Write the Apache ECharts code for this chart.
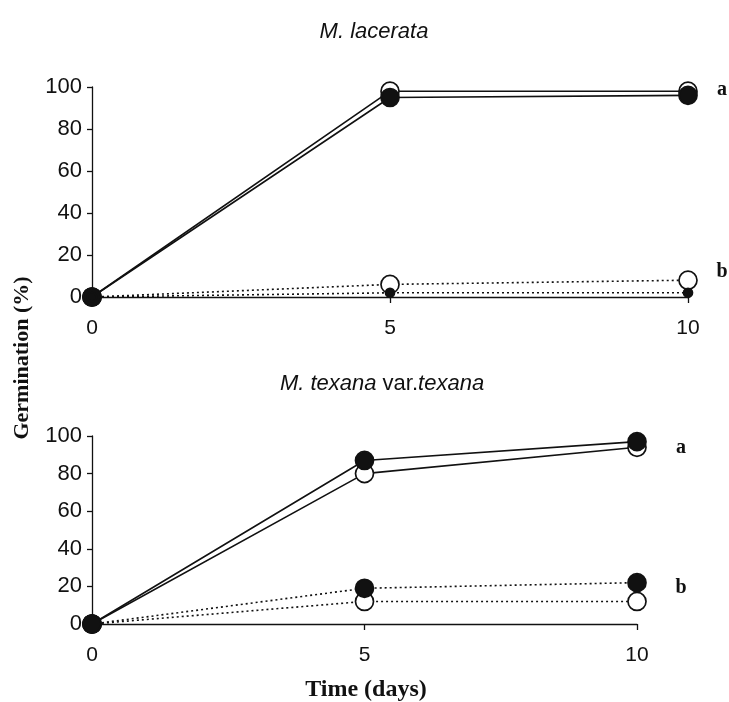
<!DOCTYPE html>
<html>
<head>
<meta charset="utf-8">
<script src="https://cdn.jsdelivr.net/npm/echarts@6/dist/echarts.min.js"></script>
<style>
html,body{margin:0;padding:0;background:#fff;}
#chart{width:729px;height:702px;}
</style>
</head>
<body>
<div id="chart"></div>
<script>
// ---- Data ----
const days = [0, 5, 10];
const xTicks = [0, 5, 10];
const yTicks = [0, 20, 40, 60, 80, 100];

// M. lacerata
const lacerataOpenA   = [0, 98, 98];
const lacerataFilledA = [0, 95, 96];
const lacerataOpenB   = [0, 6, 8];
const lacerataFilledB = [0, 2, 2];

// M. texana var. texana
const texanaOpenA   = [0, 80, 94];
const texanaFilledA = [0, 87, 97];
const texanaOpenB   = [0, 12, 12];
const texanaFilledB = [0, 19, 22];

const groupLabels = ['a', 'b'];

// ---- Chart ----
const chart = echarts.init(document.getElementById('chart'));
const sans = 'Liberation Sans, Arial, sans-serif';
const serif = 'Liberation Serif, Times New Roman, serif';
const ink = '#111';

function pairs(vals) { return days.map((d, i) => [d, vals[i]]); }

function xAxisCfg(gi) {
  return {
    type: 'value', gridIndex: gi, min: 0, max: 10, interval: 5,
    axisLine: {show: true, lineStyle: {color: ink, width: 1.3}},
    axisTick: {show: true, inside: false, length: 6, lineStyle: {color: ink, width: 1.3}},
    axisLabel: {color: ink, fontFamily: sans, fontSize: 21, margin: 21,
      formatter: v => xTicks.includes(v) ? String(v) : ''},
    splitLine: {show: false}
  };
}
function yAxisCfg(gi) {
  return {
    type: 'value', gridIndex: gi, min: 0, max: 100, interval: 20,
    axisLine: {show: true, lineStyle: {color: ink, width: 1.3}},
    axisTick: {show: true, inside: false, length: 5, lineStyle: {color: ink, width: 1.3}},
    axisLabel: {color: ink, fontFamily: sans, fontSize: 22, margin: 10,
      formatter: v => yTicks.includes(v) ? String(v) : ''},
    splitLine: {show: false}
  };
}
function lineSeries(gi, vals, filled, dotted, size) {
  return {
    type: 'line', xAxisIndex: gi, yAxisIndex: gi,
    data: pairs(vals),
    symbol: 'circle', symbolSize: size || 18,
    showSymbol: true, animation: false,
    z: filled ? 4 : 3,
    lineStyle: {color: ink, width: 1.6, type: dotted ? [2, 3] : 'solid'},
    itemStyle: {color: filled ? ink : '#fff', borderColor: ink, borderWidth: 1.7}
  };
}

const option = {
  backgroundColor: '#fff',
  animation: false,
  title: [
    {text: 'M. lacerata', left: 369, top: 16, textAlign: 'center',
      textStyle: {fontFamily: sans, fontStyle: 'italic', fontWeight: 'normal', fontSize: 22, color: ink}},
    {text: '{i|M. texana} var.{i|texana}', left: 377, top: 368, textAlign: 'center',
      textStyle: {fontFamily: sans, fontWeight: 'normal', fontSize: 22, color: ink,
        rich: {i: {fontFamily: sans, fontStyle: 'italic', fontSize: 22, color: ink}}}}
  ],
  grid: [
    {left: 92, top: 87, width: 596, height: 210},
    {left: 92, top: 436, width: 545, height: 188}
  ],
  xAxis: [xAxisCfg(0), xAxisCfg(1)],
  yAxis: [yAxisCfg(0), yAxisCfg(1)],
  series: [
    lineSeries(0, lacerataOpenA, false, false),
    lineSeries(0, lacerataOpenB, false, true),
    lineSeries(0, lacerataFilledA, true, false),
    lineSeries(0, lacerataFilledB, true, true, 9),
    lineSeries(1, texanaOpenA, false, false),
    lineSeries(1, texanaOpenB, false, true),
    lineSeries(1, texanaFilledA, true, false),
    lineSeries(1, texanaFilledB, true, true)
  ],
  graphic: [
    {type: 'text', x: 722, y: 90, style: {text: groupLabels[0], font: 'bold 20px ' + serif, fill: ink, align: 'center', verticalAlign: 'middle'}},
    {type: 'text', x: 722, y: 272, style: {text: groupLabels[1], font: 'bold 20px ' + serif, fill: ink, align: 'center', verticalAlign: 'middle'}},
    {type: 'text', x: 681, y: 448, style: {text: groupLabels[0], font: 'bold 20px ' + serif, fill: ink, align: 'center', verticalAlign: 'middle'}},
    {type: 'text', x: 681, y: 588, style: {text: groupLabels[1], font: 'bold 20px ' + serif, fill: ink, align: 'center', verticalAlign: 'middle'}},
    {type: 'text', x: 366, y: 690, style: {text: 'Time (days)', font: 'bold 24px ' + serif, fill: ink, align: 'center', verticalAlign: 'middle'}},
    {type: 'text', x: 22, y: 358, rotation: Math.PI / 2,
      style: {text: 'Germination (%)', font: 'bold 22px ' + serif, fill: ink, align: 'center', verticalAlign: 'middle'}}
  ]
};
chart.setOption(option);
</script>
</body>
</html>
